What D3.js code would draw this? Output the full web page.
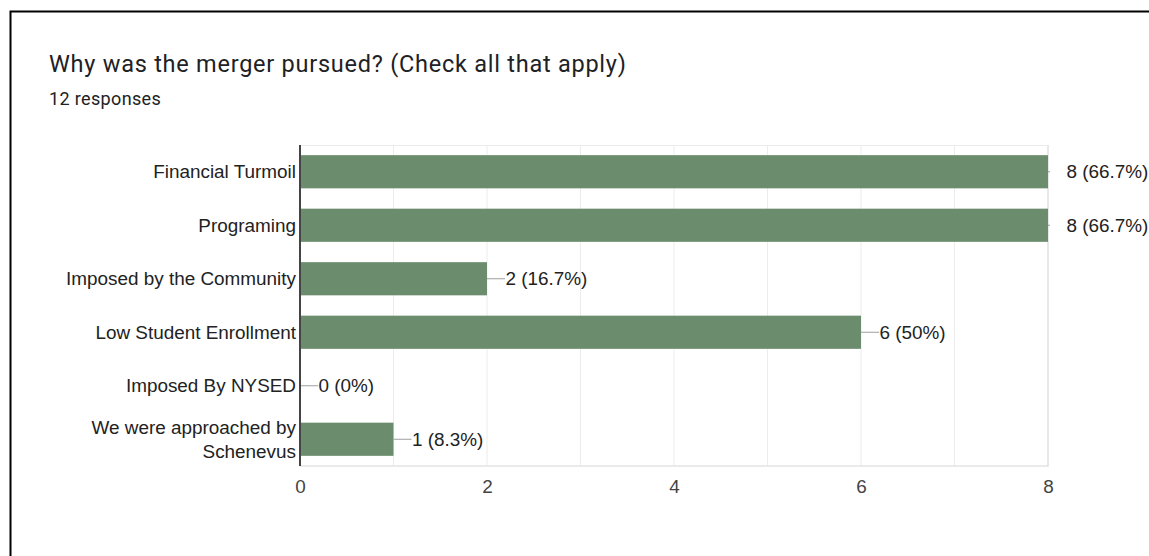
<!DOCTYPE html>
<html>
<head>
<meta charset="utf-8">
<script src="https://cdn.jsdelivr.net/npm/d3@7"></script>
<style>
  html, body { margin: 0; padding: 0; background: #fff; }
  svg { display: block; }
</style>
</head>
<body>
<svg id="chart" width="1149" height="556"></svg>
<script>
// Survey question and answer counts
const title = "Why was the merger pursued? (Check all that apply)";
const subtitle = "12 responses";
const categories = [
  "Financial Turmoil",
  "Programing",
  "Imposed by the Community",
  "Low Student Enrollment",
  "Imposed By NYSED",
  "We were approached by\nSchenevus"
];
const counts = [8, 8, 2, 6, 0, 1];
const valueLabels = ["8 (66.7%)", "8 (66.7%)", "2 (16.7%)", "6 (50%)", "0 (0%)", "1 (8.3%)"];
const xTicks = [0, 2, 4, 6, 8];
const gridValues = [1, 2, 3, 4, 5, 6, 7, 8];

const svg = d3.select("#chart");
const W = 1149, H = 556;
const plot = { left: 300, right: 1048, top: 145, bottom: 466 };

// Card outline (left and top edges)
svg.append("path")
  .attr("d", `M10.5,${H} V11.5 H${W}`)
  .attr("fill", "none")
  .attr("stroke", "#000")
  .attr("stroke-width", 2);

// Heading
svg.append("text")
  .attr("x", 49).attr("y", 72)
  .attr("font-family", "Roboto, sans-serif")
  .attr("font-size", 23.5)
  .attr("letter-spacing", 0.75)
  .attr("fill", "#202124")
  .text(title);
svg.append("text")
  .attr("x", 49).attr("y", 105)
  .attr("font-family", "Roboto, sans-serif")
  .attr("font-size", 18)
  .attr("letter-spacing", 0.35)
  .attr("fill", "#202124")
  .text(subtitle);

const x = d3.scaleLinear().domain([0, 8]).range([plot.left, plot.right]);
const y = d3.scaleBand().domain(categories).range([plot.top, plot.bottom]).paddingInner(0.38).paddingOuter(0.19);

// Clip region for the leader lines so they stop at the plot edge
svg.append("defs").append("clipPath").attr("id", "plot-clip")
  .append("rect")
  .attr("x", plot.left).attr("y", plot.top)
  .attr("width", plot.right - plot.left + 2)
  .attr("height", plot.bottom - plot.top);

const g = svg.append("g");

// Vertical gridlines
g.selectAll("line.grid")
  .data(gridValues)
  .join("line")
  .attr("class", "grid")
  .attr("x1", d => x(d)).attr("x2", d => x(d))
  .attr("y1", plot.top).attr("y2", plot.bottom)
  .attr("stroke", d => d === 8 ? "#e0e0e0" : "#ececec")
  .attr("stroke-width", d => d === 8 ? 1.5 : 1);

// Top and bottom edges of the plot area
g.append("line")
  .attr("x1", plot.left).attr("x2", plot.right)
  .attr("y1", plot.top + 0.5).attr("y2", plot.top + 0.5)
  .attr("stroke", "#ececec");
g.append("line")
  .attr("x1", plot.left).attr("x2", plot.right + 0.75)
  .attr("y1", plot.bottom).attr("y2", plot.bottom)
  .attr("stroke", "#e3e3e3")
  .attr("stroke-width", 1.5);

// Bars
g.selectAll("rect.bar")
  .data(categories)
  .join("rect")
  .attr("class", "bar")
  .attr("x", x(0))
  .attr("y", d => y(d))
  .attr("width", (d, i) => x(counts[i]) - x(0))
  .attr("height", y.bandwidth())
  .attr("fill", "#6b8c6d");

// Leader lines and value labels
const labelFont = "'Liberation Sans', Arial, sans-serif";
const labelSize = 18.9;
const leaders = g.append("g").attr("clip-path", "url(#plot-clip)");
categories.forEach((c, i) => {
  const cy = y(c) + y.bandwidth() / 2;
  const x0 = x(counts[i]);
  leaders.append("line")
    .attr("x1", x0).attr("x2", x0 + 18)
    .attr("y1", cy).attr("y2", cy)
    .attr("stroke", "#9e9e9e")
    .attr("stroke-width", 1);
  g.append("text")
    .attr("x", x0 + 18.5)
    .attr("y", cy)
    .attr("dy", "0.35em")
    .attr("font-family", labelFont)
    .attr("font-size", labelSize)
    .attr("fill", "#222")
    .text(valueLabels[i]);
});

// Left axis line
g.append("line")
  .attr("x1", plot.left).attr("x2", plot.left)
  .attr("y1", plot.top).attr("y2", plot.bottom)
  .attr("stroke", "#444")
  .attr("stroke-width", 2);

// Category labels (multi-line where needed)
categories.forEach(c => {
  const lines = c.split("\n");
  const cy = y(c) + y.bandwidth() / 2;
  const lh = 24;
  const t = g.append("text")
    .attr("text-anchor", "end")
    .attr("font-family", labelFont)
    .attr("font-size", labelSize)
    .attr("fill", "#222");
  lines.forEach((ln, k) => {
    t.append("tspan")
      .attr("x", plot.left - 4)
      .attr("y", cy + (k - (lines.length - 1) / 2) * lh)
      .attr("dy", "0.35em")
      .text(ln);
  });
});

// Bottom axis tick labels
const xAxis = d3.axisBottom(x).tickValues(xTicks).tickSize(0).tickPadding(14).tickFormat(d3.format("d"));
const ax = svg.append("g")
  .attr("transform", `translate(0,${plot.bottom})`)
  .call(xAxis);
ax.select(".domain").remove();
ax.selectAll("text")
  .attr("font-family", labelFont)
  .attr("font-size", labelSize)
  .attr("fill", "#444");
</script>
</body>
</html>
